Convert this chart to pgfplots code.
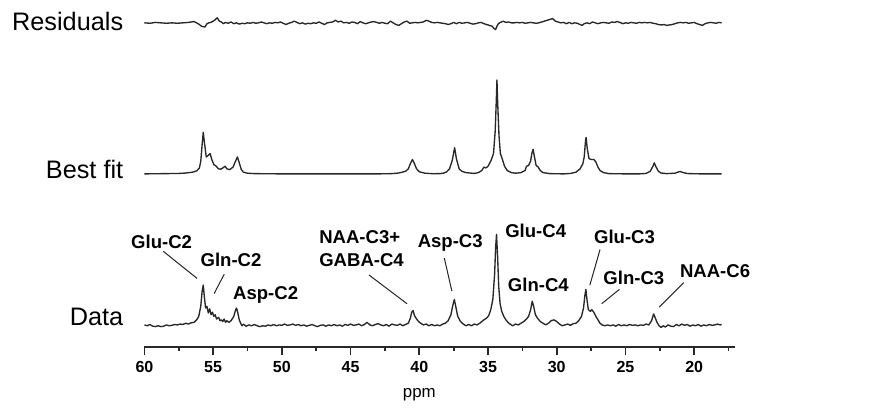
\documentclass[border=0pt]{standalone}
\usepackage{pgfplots}
\usepackage{pgfplotstable}
\usepackage{fontspec}
\setmainfont{Liberation Sans}
\pgfplotsset{compat=1.18}
\definecolor{trace}{RGB}{40,40,40}

% spectra: ppm, height above own baseline (reference pixels)
\pgfplotstableread{
ppm h
60.0 0
58.5 0.3
57.5 0.5
57.0 1
56.5 2
56.2 3.5
56.0 7
55.9 15
55.8 35
55.72 49
55.62 35
55.5 20
55.35 22
55.22 24
55.1 17
54.95 11
54.77 9
54.62 6
54.45 5.5
54.3 7
54.13 9
54.0 6
53.8 5
53.55 8
53.4 14
53.23 20
53.1 13
52.95 5
52.8 2
52.5 0.8
52.0 0.3
50.0 0
46.0 0
43.0 0
42.0 0.3
41.5 1
41.0 3
40.8 6
40.65 12
40.5 17
40.35 12
40.2 6
40.0 2.5
39.6 0.8
39.0 0.2
38.5 0.3
38.2 1
38.0 2.5
37.8 6
37.6 16
37.43 31
37.3 18
37.1 6
36.9 3
36.6 1.5
36.0 0.5
35.7 1.5
35.45 4
35.3 8
35.15 7
35.0 9
34.8 15
34.6 24
34.48 50
34.4 85
34.35 111
34.3 85
34.2 45
34.1 24
33.95 17
33.8 9
33.6 4
33.3 1.5
33.0 0.8
32.6 1.5
32.3 4
32.2 9
32.05 10
31.9 15
31.8 25
31.72 29
31.62 20
31.5 10
31.35 8
31.2 4
31.0 1.5
30.5 0.3
29.5 0
29.0 0.5
28.6 2
28.3 6
28.1 12
28.0 20
27.9 40
27.86 43
27.78 30
27.65 18
27.5 17
27.3 17
27.15 14
27.0 8
26.85 4
26.6 1.5
26.2 0.3
25.0 0
24.0 0
23.5 0.5
23.2 3
23.0 9
22.9 13
22.8 9
22.6 3
22.4 1
22.0 0.3
21.4 0.8
21.1 2.5
21.0 2.7
20.8 1.5
20.5 0.4
19.5 0
18.0 0
}\bestfit

\pgfplotstableread{
ppm h
60.0 0
59.8 -1
59.6 0.5
59.4 -1.5
59.2 -2
59.0 -1
58.8 -2
58.6 -1.5
58.4 0
58.2 -1
58.0 -0.5
57.8 0.5
57.6 0
57.4 1
57.2 0.5
57.0 2
56.8 1
56.6 2.5
56.4 3
56.2 6
56.05 10
55.9 22
55.8 40
55.72 47
55.65 35
55.55 20
55.45 22
55.35 14
55.25 19
55.15 12
55.05 15
54.95 10
54.85 12
54.75 7
54.6 9
54.5 5
54.4 6
54.3 4
54.2 7
54.1 3
54.0 5
53.85 3
53.7 5
53.5 10
53.38 17
53.3 20
53.2 14
53.1 6
53.0 2
52.9 -1
52.8 1
52.6 -1.5
52.4 0
52.2 -1
52.0 0.5
51.8 -1
51.6 -2
51.4 -1
51.2 -1.5
51.0 0
50.8 -1
50.6 0.5
50.4 -1
50.2 0
50.0 -0.5
49.8 1
49.6 -0.5
49.4 0
49.2 1
49.0 -0.5
48.8 0.5
48.6 -1
48.4 0
48.2 -1.5
48.0 -0.5
47.8 0.5
47.6 -1
47.4 -2
47.2 -0.5
47.0 0
46.8 -1.5
46.6 0
46.4 -1
46.2 0.5
46.0 -1
45.8 0
45.6 -1.5
45.4 0.5
45.2 -0.5
45.0 1
44.8 -0.5
44.6 0
44.4 1
44.2 -1
44.0 0.5
43.8 3
43.6 0
43.4 -1
43.2 0.5
43.0 1.5
42.8 0
42.6 -1
42.4 0.5
42.2 -1.5
42.0 1
41.8 0
41.6 -0.5
41.4 1
41.2 -1
41.0 0.5
40.8 2
40.65 8
40.55 15
40.45 17
40.35 11
40.2 7
40.05 4
39.9 2
39.7 0
39.5 1
39.3 -1
39.1 0.5
38.9 -1
38.7 0
38.5 -1
38.3 1
38.1 2
37.9 5
37.7 12
37.55 24
37.45 30
37.35 22
37.2 10
37.0 4
36.8 1
36.6 -1
36.4 0.5
36.2 -1
36.0 1
35.8 0
35.6 2
35.45 4
35.3 6
35.1 8
34.95 11
34.8 18
34.65 30
34.52 60
34.45 90
34.38 107
34.3 80
34.22 45
34.12 25
34.0 16
33.85 10
33.7 6
33.55 3
33.4 1
33.2 -1
33.0 1
32.8 0
32.6 2
32.4 4
32.2 7
32.05 10
31.9 18
31.78 28
31.68 22
31.55 12
31.4 8
31.2 4
31.0 2
30.8 0
30.6 2
30.4 5
30.2 6
30.0 4
29.8 1
29.6 -1
29.4 0
29.2 1
29.0 -0.5
28.8 1.5
28.6 2
28.4 5
28.2 10
28.05 20
27.95 35
27.88 42
27.8 30
27.7 18
27.55 16
27.45 18
27.3 15
27.15 10
27.0 6
26.85 2
26.7 0
26.5 -1
26.3 0
26.1 -1
25.9 0
25.7 -1.5
25.5 0.5
25.3 -1
25.1 0
24.9 -1
24.7 0.5
24.5 -0.5
24.3 0
24.1 -1
23.9 0
23.7 -0.5
23.5 1
23.3 0
23.1 5
22.95 13
22.85 9
22.7 3
22.55 -1
22.4 -3
22.25 -1
22.1 -2.5
21.9 0
21.7 -1.5
21.5 -2
21.3 0.5
21.1 -1
20.9 1
20.7 -0.5
20.5 0.5
20.3 -1.5
20.1 0
19.9 -1
19.7 0.5
19.5 -1.5
19.3 0
19.1 -1
18.9 0.5
18.7 -0.5
18.5 0
18.3 1
18.1 0
18.0 0.5
}\spectrum

\pgfplotstableread{
ppm h
60.0 0
59.6 -0.5
59.2 0.5
58.8 0
58.4 -0.5
58.0 0
57.6 -0.5
57.2 0
56.8 0.5
56.4 1.5
56.2 0
56.0 -2
55.85 -4
55.6 -5
55.45 -1
55.3 0
55.1 1
54.9 3
54.7 6
54.55 2
54.4 1
54.25 -1
54.1 0.5
53.9 -0.5
53.7 1
53.5 -1
53.3 0
53.1 -1.5
52.9 -0.5
52.7 -1
52.5 0
52.3 -0.5
52.1 0.5
51.9 -0.5
51.7 0
51.5 1
51.3 0
51.1 -1
50.9 0
50.7 -0.5
50.5 0.5
50.3 0
50.1 1
49.9 -0.5
49.7 -2
49.5 -0.5
49.3 0.5
49.1 2
48.9 0.5
48.7 -1
48.5 0
48.3 -1.5
48.1 -0.5
47.9 -1
47.7 0
47.5 -0.5
47.3 1
47.1 -0.5
46.9 -2
46.7 0
46.5 0.5
46.3 1
46.1 3
45.9 1
45.7 2
45.5 0
45.3 0.5
45.1 -0.5
44.9 1
44.7 0.5
44.5 -1
44.3 1.5
44.1 0
43.9 -1
43.7 0
43.5 1
43.3 1.5
43.1 0.5
42.9 -0.5
42.7 0.5
42.5 -0.5
42.3 -1
42.1 2
41.9 0
41.7 -2
41.5 -3
41.3 -1
41.1 1
40.9 2
40.7 -0.5
40.5 0
40.3 0.5
40.1 0
39.9 0.5
39.7 1
39.5 3
39.3 2
39.1 0.5
38.9 0
38.7 0.5
38.5 0
38.3 -0.5
38.1 -1
37.9 -2
37.7 -1
37.5 0.5
37.3 -1
37.1 0.5
36.9 -0.5
36.7 0
36.5 0.5
36.3 -0.5
36.1 -1.5
35.9 -1
35.7 0
35.5 0.5
35.3 -1
35.1 -2
34.9 -3
34.7 -4
34.55 -7
34.45 -8
34.35 -4
34.25 -1
34.1 0.5
33.9 2
33.7 0.5
33.5 1
33.3 0
33.1 0
32.9 0.5
32.7 0
32.5 0.5
32.3 -0.5
32.1 0
31.9 0.5
31.7 0
31.5 -0.5
31.3 0
31.1 1
30.9 2
30.7 3
30.5 4
30.3 5
30.1 2
29.9 1
29.7 0
29.5 0.5
29.3 -1
29.1 0.5
28.9 -1
28.7 0
28.5 -0.5
28.3 -2
28.15 -3
28.0 -1
27.8 0
27.6 -1
27.4 1
27.2 0
27.0 -1
26.8 0
26.6 0.5
26.4 0
26.2 -0.5
26.0 1
25.8 0.5
25.6 1.5
25.4 0.5
25.2 -1
25.0 0
24.8 -0.5
24.6 0.5
24.4 0
24.2 -0.5
24.0 0.5
23.8 0
23.6 0.5
23.4 0
23.2 0.5
23.0 -0.5
22.8 -1
22.6 -2
22.4 -2.5
22.2 -2
22.0 -3
21.8 -2.5
21.6 -2
21.4 -1
21.2 0
21.0 0.5
20.8 0
20.6 0.5
20.4 -0.5
20.2 0
20.0 0.5
19.8 -1
19.6 -2
19.4 -3
19.2 -1
19.0 0
18.8 0.5
18.6 0
18.4 -0.5
18.2 0.5
18.0 0
}\residuals

\begin{document}
\begin{tikzpicture}
\begin{axis}[
    width=349.2bp, height=205bp, scale only axis,
    xmin=17, xmax=60, ymin=0, ymax=410,
    x dir=reverse,
    clip=false,
    axis x line*=bottom,
    axis y line=none,
    axis line style={-, trace, line width=1bp},
    xtick={20,25,...,60},
    minor xtick={17.5,22.5,...,57.5},
    xtick pos=bottom,
    tick align=outside,
    major tick length=5bp,
    minor tick length=2.5bp,
    every tick/.style={trace, line width=1bp},
    /pgf/number format/assume math mode=true,
    xticklabel style={font=\fontsize{9.5}{11}\selectfont\bfseries, yshift=0bp},
    every axis plot/.append style={trace, line width=0.8bp, line join=round},
]
\path (axis cs:70.51,410) rectangle (axis cs:5.46,-77);

\addplot[no markers] table[x=ppm, y expr=\thisrow{h}+383] {\residuals};
\addplot[no markers] table[x=ppm, y expr=\thisrow{h}+204.5] {\bestfit};
\addplot[no markers] table[x=ppm, y expr=\thisrow{h}+26] {\spectrum};

\begin{scope}[every node/.style={font=\fontsize{15}{18}\selectfont, anchor=east, inner sep=0pt}]
\node at (axis cs:61.52,385) {Residuals};
\node at (axis cs:61.52,210) {Best fit};
\node at (axis cs:61.52,35.5) {Data};
\end{scope}

\node[font=\fontsize{10}{12}\selectfont, inner sep=0pt] at (axis cs:40,-57) {ppm};

\begin{scope}[every node/.style={font=\fontsize{11}{13.5}\selectfont\bfseries, inner sep=0pt}]
\node at (axis cs:58.75,124) {Glu-C2};
\node at (axis cs:53.70,103) {Gln-C2};
\node at (axis cs:51.18,62) {Asp-C2};
\node[anchor=west, align=left] at (axis cs:47.30,116.5) {NAA-C3+\\GABA-C4};
\node at (axis cs:37.75,123) {Asp-C3};
\node at (axis cs:31.53,137) {Glu-C4};
\node at (axis cs:31.34,73) {Gln-C4};
\node at (axis cs:25.07,130) {Glu-C3};
\node at (axis cs:24.39,82) {Gln-C3};
\node at (axis cs:18.48,89) {NAA-C6};
\end{scope}

\begin{scope}[trace, line width=0.6bp]
\draw (axis cs:58.63,113) -- (axis cs:56.17,81);
\draw (axis cs:54.19,86) -- (axis cs:54.93,63);
\draw (axis cs:43.66,85) -- (axis cs:40.89,51);
\draw (axis cs:38.18,105) -- (axis cs:37.63,66);
\draw (axis cs:26.85,115) -- (axis cs:27.59,73);
\draw (axis cs:25.44,68) -- (axis cs:26.73,51);
\draw (axis cs:20.75,76) -- (axis cs:22.54,47);
\end{scope}
\end{axis}
\end{tikzpicture}
\end{document}
